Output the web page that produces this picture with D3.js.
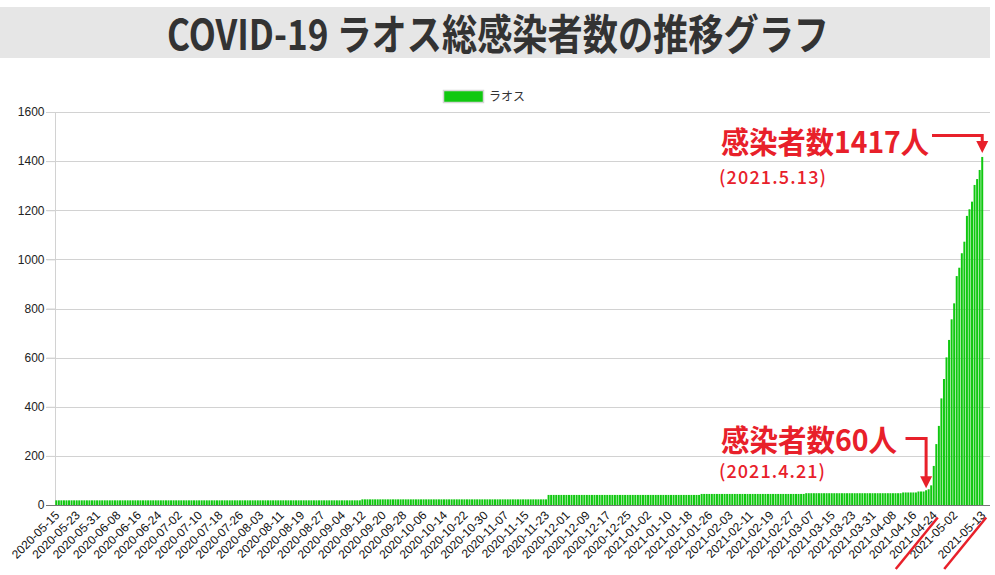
<!DOCTYPE html>
<html><head><meta charset="utf-8">
<script src="https://cdn.jsdelivr.net/npm/d3@7"></script>
<style>
html,body{margin:0;padding:0;background:#fff;}
svg{display:block;}
</style></head>
<body>
<svg id="chart" width="995" height="575"></svg>
<script>
// ---------- data ----------
const titleText = "COVID-19 ラオス総感染者数の推移グラフ";
const seriesName = "ラオス";
const startDate = "2020-05-15";
const endDate = "2021-05-13";
const yTicks = [0, 200, 400, 600, 800, 1000, 1200, 1400, 1600];
const tickLabels = [
  "2020-05-15","2020-05-23","2020-05-31","2020-06-08","2020-06-16","2020-06-24",
  "2020-07-02","2020-07-10","2020-07-18","2020-07-26","2020-08-03","2020-08-11",
  "2020-08-19","2020-08-27","2020-09-04","2020-09-12","2020-09-20","2020-09-28",
  "2020-10-06","2020-10-14","2020-10-22","2020-10-30","2020-11-07","2020-11-15",
  "2020-11-23","2020-12-01","2020-12-09","2020-12-17","2020-12-25","2021-01-02",
  "2021-01-10","2021-01-18","2021-01-26","2021-02-03","2021-02-11","2021-02-19",
  "2021-02-27","2021-03-07","2021-03-15","2021-03-23","2021-03-31","2021-04-08",
  "2021-04-16","2021-04-24","2021-05-02","2021-05-13"
];
const cases = [
  // 2020-05-15 .. 2020-09-11
  19,19,19,19,19,19,19,19,19,19,
  19,19,19,19,19,19,19,19,19,19,
  19,19,19,19,19,19,19,19,19,19,
  19,19,19,19,19,19,19,19,19,19,
  19,19,19,19,19,19,19,19,19,19,
  19,19,19,19,19,19,19,19,19,19,
  19,19,19,19,19,19,19,19,19,19,
  19,19,19,19,19,19,19,19,19,19,
  19,19,19,19,19,19,19,19,19,19,
  19,19,19,19,19,19,19,19,19,19,
  19,19,19,19,19,19,19,19,19,19,
  19,19,19,19,19,19,19,19,19,19,
  // 2020-09-12 .. 2020-11-23
  23,23,23,23,23,23,23,23,23,23,
  23,23,23,23,23,23,23,23,23,23,
  23,23,23,23,23,23,23,23,23,23,
  23,23,23,23,23,23,23,23,23,23,
  23,23,23,23,23,23,23,23,23,23,
  23,23,23,23,23,23,23,23,23,23,
  23,23,23,23,23,23,23,23,23,23,
  23,23,23,
  // 2020-11-24 .. 2021-01-22
  41,41,41,41,41,41,41,41,41,41,
  41,41,41,41,41,41,41,41,41,41,
  41,41,41,41,41,41,41,41,41,41,
  41,41,41,41,41,41,41,41,41,41,
  41,41,41,41,41,41,41,41,41,41,
  41,41,41,41,41,41,41,41,41,41,
  // 2021-01-23 .. 2021-03-04
  45,45,45,45,45,45,45,45,45,45,
  45,45,45,45,45,45,45,45,45,45,
  45,45,45,45,45,45,45,45,45,45,
  45,45,45,45,45,45,45,45,45,45,
  45,
  // 2021-03-05 .. 2021-04-11
  48,48,48,48,48,48,48,48,48,48,
  48,48,48,48,48,48,48,48,48,48,
  48,48,48,48,48,48,48,48,48,48,
  48,48,48,48,48,48,48,48,
  // 2021-04-12 .. 2021-04-20
  51,51,51,51,51,51,
  55,55,55,
  // 2021-04-21 .. 2021-05-13
  60,64,80,159,248,322,434,513,601,672,756,821,932,966,1025,1072,1177,1204,1235,1303,1327,1364,1417
];
const notes = [
  {date: "2021-05-13", value: 1417, label: "感染者数1417人", sub: "(2021.5.13)"},
  {date: "2021-04-21", value: 60, label: "感染者数60人", sub: "(2021.4.21)"}
];
const struckLabels = ["2021-04-24", "2021-05-13"];

// ---------- build ----------
const parse = d3.timeParse("%Y-%m-%d");
const fmt = d3.timeFormat("%Y-%m-%d");
const dates = d3.timeDay.range(parse(startDate), d3.timeDay.offset(parse(endDate), 1)).map(fmt);
const data = dates.map((d, i) => ({date: d, value: cases[i]}));

const svg = d3.select("#chart");
const plot = {left: 55, right: 983.5, top: 112, bottom: 505, axisEnd: 990};
const green = "#10c810";
const red = "#e8202a";

// title band
svg.append("rect").attr("x", 0).attr("y", 7).attr("width", 990).attr("height", 51).attr("fill", "#e6e6e6");
svg.append("text").attr("x", 167).attr("y", 50)
  .attr("font-family", "'Noto Sans CJK JP', sans-serif").attr("font-weight", 600)
  .attr("font-size", 42).attr("fill", "#333")
  .attr("textLength", 662).attr("lengthAdjust", "spacingAndGlyphs")
  .text(titleText);

const x = d3.scaleBand().domain(dates).range([plot.left, plot.right]).paddingInner(0.22).paddingOuter(0.11);
const y = d3.scaleLinear().domain([0, 1600]).range([plot.bottom, plot.top]);

// legend
svg.append("rect").attr("x", 443.5).attr("y", 90.5).attr("width", 40).attr("height", 12)
  .attr("fill", green).attr("stroke", "#d6d6d6").attr("stroke-width", 1.5);
svg.append("text").attr("x", 489).attr("y", 96.5).attr("dy", "0.35em")
  .attr("font-family", "'Noto Sans CJK JP', sans-serif").attr("font-size", 12).attr("fill", "#333")
  .text(seriesName);

// gridlines
svg.append("g").selectAll("line").data(yTicks.filter(v => v > 0)).join("line")
  .attr("x1", plot.left - 9).attr("x2", plot.axisEnd)
  .attr("y1", d => Math.round(y(d)) + 0.5).attr("y2", d => Math.round(y(d)) + 0.5)
  .attr("stroke", "#d2d2d2").attr("stroke-width", 1);

// y axis
const yAxis = d3.axisLeft(y).tickValues(yTicks).tickSize(9).tickPadding(2).tickFormat(d3.format("d"));
const gy = svg.append("g").attr("transform", `translate(${plot.left + 0.5},0)`).call(yAxis);
gy.select(".domain").attr("stroke", "#d2d2d2").attr("d", `M0,${plot.top}V${plot.bottom}`);
gy.selectAll(".tick line").attr("stroke", "#d2d2d2");
gy.selectAll(".tick text").attr("font-family", "'Liberation Sans', Arial, sans-serif").attr("font-size", 12).attr("fill", "#222");

// bars
svg.append("g").selectAll("rect").data(data).join("rect")
  .attr("x", d => x(d.date)).attr("width", x.bandwidth())
  .attr("y", d => y(d.value)).attr("height", d => y(0) - y(d.value))
  .attr("fill", green);

// baseline
svg.append("line").attr("x1", plot.left - 9).attr("x2", plot.axisEnd)
  .attr("y1", plot.bottom + 0.5).attr("y2", plot.bottom + 0.5).attr("stroke", "#777").attr("stroke-width", 1);

// x axis labels
const cx = d => x(d) + x.bandwidth() / 2;
svg.append("g").selectAll("text").data(tickLabels).join("text")
  .attr("transform", d => `translate(${cx(d) + 1},${plot.bottom + 8}) rotate(-45)`)
  .attr("text-anchor", "end").attr("dy", "0.35em")
  .attr("font-family", "'Liberation Sans', Arial, sans-serif").attr("font-size", 12).attr("fill", "#111")
  .text(d => d);

// strike lines on labels
svg.append("g").selectAll("line").data(struckLabels).join("line")
  .attr("x1", d => cx(d) - 38).attr("y1", plot.bottom + 64)
  .attr("x2", d => cx(d) + 4).attr("y2", plot.bottom + 12.5)
  .attr("stroke", red).attr("stroke-width", 2.5);

// annotations
const noteText = [
  {tx: 721, ty: 153, sy: 184, w: 208, sw: 107},
  {tx: 721, ty: 450.5, sy: 478, w: 176, sw: 106}
];
const arrowGeom = [
  {lineY: 135.5, lineX0: 932, gap: 4},
  {lineY: 438.5, lineX0: 905.5, gap: 2}
];
notes.forEach((n, i) => {
  const t = noteText[i];
  svg.append("text").attr("x", t.tx).attr("y", t.ty)
    .attr("font-family", "'Noto Sans CJK JP', sans-serif").attr("font-weight", "bold")
    .attr("font-size", 30).attr("fill", red)
    .attr("textLength", t.w).attr("lengthAdjust", "spacingAndGlyphs")
    .text(n.label);
  svg.append("text").attr("x", t.tx - 2).attr("y", t.sy)
    .attr("font-family", "'Noto Sans CJK JP', sans-serif").attr("font-weight", 500)
    .attr("font-size", 18).attr("fill", red)
    .attr("textLength", t.sw).attr("lengthAdjust", "spacing")
    .text(n.sub);
  const g = arrowGeom[i];
  const ax = cx(n.date), tipY = y(n.value) - g.gap;
  svg.append("path")
    .attr("d", `M${g.lineX0},${g.lineY}H${ax}V${tipY - 10}`)
    .attr("fill", "none").attr("stroke", red).attr("stroke-width", 3);
  svg.append("path")
    .attr("d", `M${ax - 6},${tipY - 12}L${ax + 6},${tipY - 12}L${ax},${tipY}Z`)
    .attr("fill", red);
});
</script>
</body></html>
